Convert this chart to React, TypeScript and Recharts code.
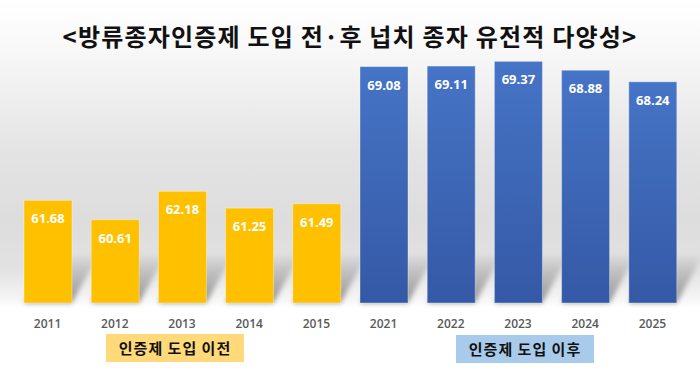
import React from "react";
import { BarChart, Bar, XAxis, YAxis, Cell, LabelList } from "recharts";

const years = ["2011", "2012", "2013", "2014", "2015", "2021", "2022", "2023", "2024", "2025"];
const diversity = [61.68, 60.61, 62.18, 61.25, 61.49, 69.08, 69.11, 69.37, 68.88, 68.24];
const beforeCount = 5;
const titleText = "<방류종자인증제 도입 전·후 넙치 종자 유전적 다양성>";
const groupLabels = ["인증제 도입 이전", "인증제 도입 이후"];

const data = years.map((year, i) => ({ year, value: diversity[i] }));

const KR = "'Noto Sans CJK KR', 'Noto Sans', sans-serif";
const NUM = "'Open Sans', 'Noto Sans', sans-serif";

const BarWithShadow = (props: any) => {
  const { x, y, width, height, fill } = props;
  const bottom = y + height;
  return (
    <g>
      <polygon
        points={`${x},${bottom} ${x + width},${bottom} ${x + width + 26},${bottom - 48} ${x + 26},${bottom - 48}`}
        fill="url(#shadowGrad)"
        filter="url(#blur)"
      />
      <rect x={x} y={y} width={width} height={height} fill={fill} stroke="rgba(255,255,255,0.35)" strokeWidth={1} />
    </g>
  );
};

const valueLabel = (props: any) => {
  const { x, y, width, value } = props;
  return (
    <text
      x={x + width / 2}
      y={y + 18}
      textAnchor="middle"
      dominantBaseline="central"
      fill="#ffffff"
      fontFamily={NUM}
      fontSize={13}
      fontWeight={700}
    >
      {value.toFixed(2)}
    </text>
  );
};

const yearTick = ({ x, y, payload }: any) => (
  <text x={x} y={y + 12} textAnchor="middle" dominantBaseline="central" fill="#595959" fontFamily={NUM} fontSize={12} fontWeight={600}>
    {payload.value}
  </text>
);

export default function App() {
  return (
    <div
      style={{
        position: "relative",
        width: 700,
        height: 368,
        background:
          "linear-gradient(to bottom, #ffffff 0px, #fbfbfb 30px, #f5f5f5 65px, #e4e4e4 150px, #dddddd 220px, #e2e2e2 270px, #f3f3f3 296px, #ffffff 308px, #ffffff 368px)",
        overflow: "hidden",
      }}
    >
      <style>{`body{margin:0}`}</style>
      <div
        style={{
          position: "absolute",
          left: 0,
          top: 19,
          width: 700,
          textAlign: "center",
          fontFamily: KR,
          fontSize: 24,
          fontWeight: 700,
          letterSpacing: 1.2,
          color: "#111111",
          lineHeight: "34px",
        }}
      >
        {titleText}
      </div>
      <BarChart width={700} height={368} data={data} margin={{ top: 50, right: 14, bottom: 35, left: 14 }} barSize={48}>
        <defs>
          <linearGradient id="blueGrad" x1="0" y1="0" x2="0" y2="1">
            <stop offset="0%" stopColor="#4674c6" />
            <stop offset="100%" stopColor="#3459a6" />
          </linearGradient>
          <linearGradient id="shadowGrad" x1="0" y1="1" x2="0" y2="0">
            <stop offset="0%" stopColor="#000000" stopOpacity={0.4} />
            <stop offset="100%" stopColor="#000000" stopOpacity={0.02} />
          </linearGradient>
          <filter id="blur" x="-20%" y="-20%" width="140%" height="140%">
            <feGaussianBlur stdDeviation="2.5" />
          </filter>
        </defs>
        <XAxis dataKey="year" axisLine={false} tickLine={false} height={30} tick={yearTick} interval={0} />
        <YAxis hide domain={[56, 70]} />
        <Bar dataKey="value" isAnimationActive={false} shape={BarWithShadow}>
          {data.map((d, i) => (
            <Cell key={d.year} fill={i < beforeCount ? "#ffc000" : "url(#blueGrad)"} />
          ))}
          <LabelList dataKey="value" content={valueLabel} />
        </Bar>
      </BarChart>
      <div
        style={{
          position: "absolute",
          left: 106,
          top: 334,
          width: 138,
          height: 28,
          background: "#ffd97a",
          fontFamily: KR,
          fontSize: 15,
          fontWeight: 700,
          color: "#111111",
          textAlign: "center",
          lineHeight: "28px",
          letterSpacing: 1,
        }}
      >
        {groupLabels[0]}
      </div>
      <div
        style={{
          position: "absolute",
          left: 456,
          top: 335,
          width: 138,
          height: 28,
          background: "#a9cbeb",
          fontFamily: KR,
          fontSize: 15,
          fontWeight: 700,
          color: "#111111",
          textAlign: "center",
          lineHeight: "28px",
          letterSpacing: 1,
        }}
      >
        {groupLabels[1]}
      </div>
    </div>
  );
}
